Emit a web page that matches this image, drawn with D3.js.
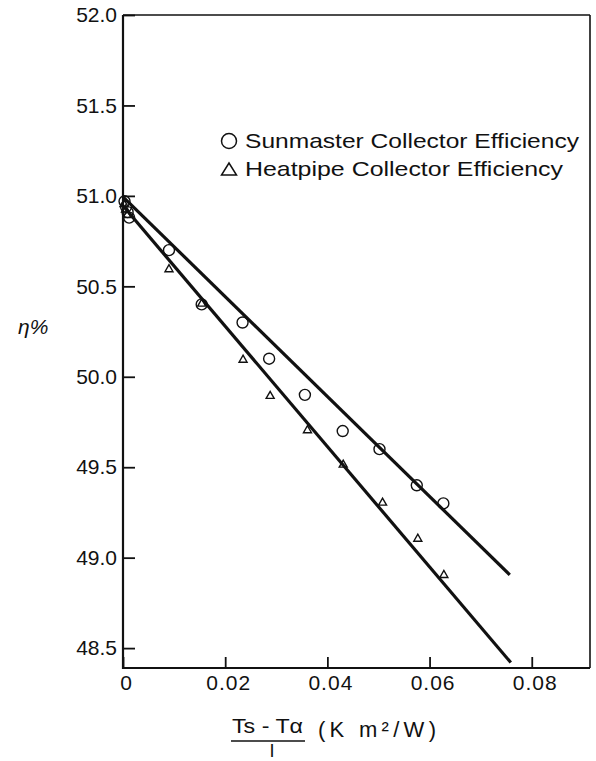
<!DOCTYPE html>
<html>
<head>
<meta charset="utf-8">
<script src="https://cdn.jsdelivr.net/npm/d3@7/dist/d3.min.js"></script>
<style>
  html, body { margin: 0; padding: 0; background: #fff; }
  svg { display: block; }
  text { font-family: "Liberation Sans", Arial, Helvetica, sans-serif; fill: #111; }
</style>
</head>
<body>
<svg id="chart" width="596" height="761"></svg>
<script>
// ---- data ----
const sunX  = [0.0003, 0.0006, 0.0009, 0.0012, 0.009, 0.0154, 0.0234, 0.0286, 0.0356, 0.0430, 0.0502, 0.0575, 0.0627];
const sunY  = [50.97, 50.94, 50.91, 50.88, 50.70, 50.40, 50.30, 50.10, 49.90, 49.70, 49.60, 49.40, 49.30];
const heatX = [0.0002, 0.0005, 0.0008, 0.009, 0.0154, 0.0235, 0.0288, 0.0361, 0.0431, 0.0508, 0.0577, 0.0628];
const heatY = [50.96, 50.93, 50.90, 50.60, 50.41, 50.10, 49.90, 49.71, 49.52, 49.31, 49.11, 48.91];
const sunFitX  = [0, 0.0757];
const sunFitY  = [50.995, 48.905];
const heatFitX = [0, 0.0759];
const heatFitY = [50.945, 48.42];
const xTicks = [0, 0.02, 0.04, 0.06, 0.08];
const yTicks = [48.5, 49.0, 49.5, 50.0, 50.5, 51.0, 51.5, 52.0];
const legendLabels = ["Sunmaster Collector Efficiency", "Heatpipe Collector Efficiency"];

// ---- layout ----
const L = 123, R = 590, T = 15, B = 668;
const svg = d3.select("#chart");
const x = d3.scaleLinear().domain([0, 0.0914]).range([L, R]);
const y = d3.scaleLinear().domain([48.39, 52.0]).range([B, T]);

// axes
const yAxis = d3.axisLeft(y).tickValues(yTicks).tickSize(-12).tickPadding(6).tickFormat(d3.format(".1f"));
const gy = svg.append("g").attr("transform", `translate(${L},0)`).call(yAxis);
gy.select(".domain").remove();
gy.selectAll("line").attr("stroke", "#111").attr("stroke-width", 1.8);
gy.selectAll("text").style("font-size", "21px").attr("fill", "#111");

const xAxis = d3.axisBottom(x).tickValues(xTicks).tickSize(-11).tickPadding(7)
  .tickFormat(d => d === 0 ? "0" : d3.format(".2f")(d));
const gx = svg.append("g").attr("transform", `translate(0,${B})`).call(xAxis);
gx.select(".domain").remove();
gx.selectAll("line").attr("stroke", "#111").attr("stroke-width", 1.8);
gx.selectAll("text").style("font-size", "21px").attr("fill", "#111").attr("dx", 3).style("letter-spacing", "1px");

// frame
svg.append("line").attr("x1", L).attr("x2", L).attr("y1", T).attr("y2", B + 1).attr("stroke", "#111").attr("stroke-width", 2.2);
svg.append("line").attr("x1", L).attr("x2", R).attr("y1", B).attr("y2", B).attr("stroke", "#111").attr("stroke-width", 2);
svg.append("line").attr("x1", L).attr("x2", R).attr("y1", T).attr("y2", T).attr("stroke", "#111").attr("stroke-width", 1.6);
svg.append("line").attr("x1", R).attr("x2", R).attr("y1", T).attr("y2", B).attr("stroke", "#111").attr("stroke-width", 1.6);

// fit lines
const line = d3.line().x(d => x(d[0])).y(d => y(d[1]));
svg.append("path").datum(d3.zip(sunFitX, sunFitY)).attr("d", line)
  .attr("fill", "none").attr("stroke", "#111").attr("stroke-width", 3.2);
svg.append("path").datum(d3.zip(heatFitX, heatFitY)).attr("d", line)
  .attr("fill", "none").attr("stroke", "#111").attr("stroke-width", 3.2);

// markers
const tri = (cx, cy, w, h) => `M${cx - w / 2},${cy + h / 2}L${cx + w / 2},${cy + h / 2}L${cx},${cy - h / 2}Z`;
svg.append("g").selectAll("circle").data(d3.zip(sunX, sunY)).join("circle")
  .attr("cx", d => x(d[0])).attr("cy", d => y(d[1])).attr("r", 5.5)
  .attr("fill", "none").attr("stroke", "#111").attr("stroke-width", 1.4);
svg.append("g").selectAll("path").data(d3.zip(heatX, heatY)).join("path")
  .attr("d", d => tri(x(d[0]), y(d[1]), 8, 7))
  .attr("fill", "none").attr("stroke", "#111").attr("stroke-width", 1.4);

// legend
svg.append("circle").attr("cx", 229).attr("cy", 141).attr("r", 7.5)
  .attr("fill", "none").attr("stroke", "#111").attr("stroke-width", 1.5);
svg.append("path").attr("d", tri(229, 169, 15, 12))
  .attr("fill", "none").attr("stroke", "#111").attr("stroke-width", 1.5);
svg.append("text").attr("x", 245).attr("y", 148).style("font-size", "21px")
  .attr("textLength", 334).attr("lengthAdjust", "spacingAndGlyphs").text(legendLabels[0]);
svg.append("text").attr("x", 245).attr("y", 176).style("font-size", "21px")
  .attr("textLength", 318).attr("lengthAdjust", "spacingAndGlyphs").text(legendLabels[1]);

// y label
svg.append("text").attr("x", 18).attr("y", 334).style("font-size", "21px").style("font-style", "italic").text("η%");

// x label (fraction)
svg.append("text").attr("x", 232).attr("y", 733).style("font-size", "20px")
  .attr("textLength", 71).attr("lengthAdjust", "spacingAndGlyphs").text("Ts - Tα");
svg.append("line").attr("x1", 231).attr("x2", 305).attr("y1", 741).attr("y2", 741).attr("stroke", "#111").attr("stroke-width", 1.6);
svg.append("text").attr("x", 272).attr("y", 757).attr("text-anchor", "middle").style("font-size", "18px").text("I");
svg.append("text").attr("x", 318).attr("y", 737).style("font-size", "22px")
  .attr("textLength", 118).attr("lengthAdjust", "spacing").text("(K m²/W)");
</script>
</body>
</html>
